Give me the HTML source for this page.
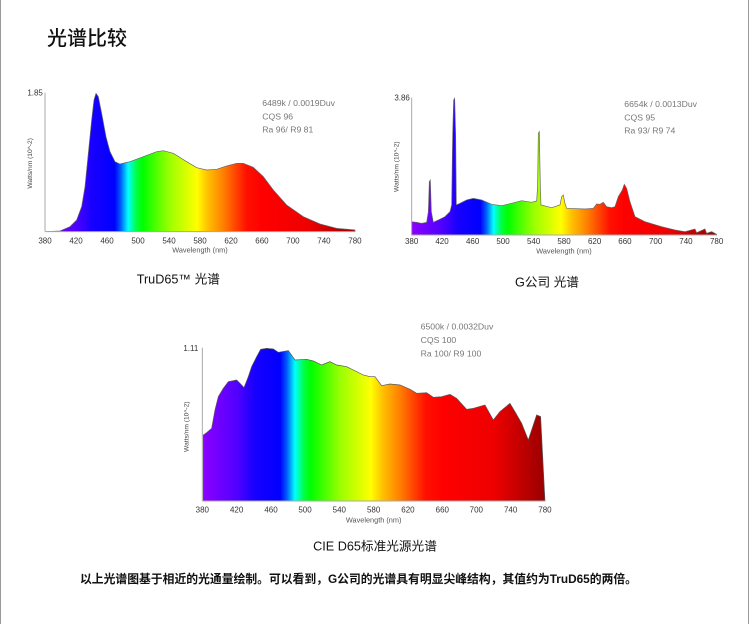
<!DOCTYPE html>
<html><head><meta charset="utf-8"><style>
html,body{margin:0;padding:0;background:#fff;}
body{width:750px;height:624px;overflow:hidden;position:relative;}
svg{position:absolute;left:0;top:0;}
</style></head><body>
<svg width="750" height="624" viewBox="0 0 750 624" xmlns="http://www.w3.org/2000/svg" font-family="Liberation Sans, Noto Sans CJK SC, sans-serif">
<defs>
<linearGradient id="sp" x1="0" x2="1" y1="0" y2="0">
<stop offset="0" stop-color="#8a00ff"/>
<stop offset="0.1" stop-color="#5000ff"/>
<stop offset="0.15" stop-color="#1800ff"/>
<stop offset="0.225" stop-color="#0000ff"/>
<stop offset="0.245" stop-color="#0060ff"/>
<stop offset="0.268" stop-color="#00ffff"/>
<stop offset="0.295" stop-color="#00ff40"/>
<stop offset="0.315" stop-color="#00ff00"/>
<stop offset="0.4" stop-color="#99ff00"/>
<stop offset="0.49" stop-color="#ffff00"/>
<stop offset="0.525" stop-color="#ffc000"/>
<stop offset="0.575" stop-color="#ff8000"/>
<stop offset="0.65" stop-color="#ff1000"/>
<stop offset="0.7" stop-color="#ff0000"/>
<stop offset="0.85" stop-color="#ee0000"/>
<stop offset="1" stop-color="#990000"/>
</linearGradient>
</defs>
<line x1="0.5" y1="0" x2="0.5" y2="624" stroke="#999"/>
<line x1="748.5" y1="0" x2="748.5" y2="624" stroke="#999"/>
<text x="47" y="45" font-size="20" fill="#111" font-weight="500">光谱比较</text>

<!-- Chart 1 -->
<g transform="translate(20,80) scale(0.3333)">
<path d="M75,455 L120,453 L150,440 L170,420 L185,380 L195,320 L205,220 L215,120 L222,60 L228,40 L235,50 L245,100 L258,170 L270,215 L285,245 L300,252 L330,245 L370,230 L410,215 L430,212 L460,220 L500,245 L530,263 L560,270 L590,268 L620,258 L650,250 L670,250 L700,262 L730,290 L760,330 L800,375 L850,410 L900,432 L950,445 L1005,450 L1005,455 Z" fill="url(#sp)" stroke="#666" stroke-width="2"/>
<line x1="75" y1="38" x2="75" y2="455" stroke="#aaa" stroke-width="3"/>
<line x1="75" y1="455" x2="1005" y2="455" stroke="#aaa" stroke-width="3"/>
<text x="22" y="47" font-size="24" fill="#333">1.85</text>
<g font-size="24" fill="#333" text-anchor="middle">
<text x="75" y="490">380</text><text x="168" y="490">420</text><text x="261" y="490">460</text><text x="354" y="490">500</text><text x="447" y="490">540</text><text x="540" y="490">580</text><text x="633" y="490">620</text><text x="726" y="490">660</text><text x="819" y="490">700</text><text x="912" y="490">740</text><text x="1005" y="490">780</text>
<text x="540" y="518" font-size="22" fill="#555">Wavelength (nm)</text>
</g>
<text transform="translate(36,250) rotate(-90)" font-size="20" fill="#444" text-anchor="middle">Watts/nm (10^-2)</text>
<g font-size="26" fill="#777"><text x="727" y="78">6489k / 0.0019Duv</text><text x="727" y="118">CQS 96</text><text x="727" y="158">Ra 96/ R9 81</text></g>
<text x="475" y="610" font-size="38" fill="#111" text-anchor="middle">TruD65™ 光谱</text>
</g>

<!-- Chart 2 -->
<g transform="translate(385,85) scale(0.3333)">
<path d="M80,410 L95,412 L110,415 L125,412 L130,380 L133,290 L136,285 L139,380 L145,412 L160,405 L180,395 L195,380 L200,360 L203,150 L206,45 L209,40 L212,150 L214,360 L225,355 L245,345 L265,340 L290,345 L320,358 L350,362 L380,355 L410,347 L440,352 L455,348 L458,300 L460,145 L463,140 L466,300 L468,360 L500,368 L525,360 L530,335 L535,330 L540,355 L545,370 L600,372 L625,370 L635,357 L645,358 L655,352 L665,365 L680,368 L690,365 L700,335 L712,315 L718,298 L725,310 L735,350 L750,395 L780,410 L830,425 L870,435 L900,440 L930,432 L935,443 L960,432 L965,445 L980,440 L995,448 L995,450 L80,450 Z" fill="url(#sp)" stroke="#666" stroke-width="2"/>
<line x1="80" y1="38" x2="80" y2="450" stroke="#aaa" stroke-width="3"/>
<line x1="80" y1="450" x2="995" y2="450" stroke="#aaa" stroke-width="3"/>
<text x="28" y="47" font-size="24" fill="#333">3.86</text>
<g font-size="24" fill="#333" text-anchor="middle">
<text x="80" y="477">380</text><text x="171" y="477">420</text><text x="263" y="477">460</text><text x="354" y="477">500</text><text x="446" y="477">540</text><text x="537" y="477">580</text><text x="629" y="477">620</text><text x="720" y="477">660</text><text x="812" y="477">700</text><text x="903" y="477">740</text><text x="995" y="477">780</text>
<text x="537" y="506" font-size="22" fill="#555">Wavelength (nm)</text>
</g>
<text transform="translate(40,245) rotate(-90)" font-size="20" fill="#444" text-anchor="middle">Watts/nm (10^-2)</text>
<g font-size="26" fill="#777"><text x="718" y="66">6654k / 0.0013Duv</text><text x="718" y="106">CQS 95</text><text x="718" y="146">Ra 93/ R9 74</text></g>
<text x="486" y="605" font-size="38" fill="#111" text-anchor="middle">G公司 光谱</text>
</g>

<!-- Chart 3 -->
<g transform="translate(170,310) scale(0.3333)">
<path d="M100,573 L100,375 L110,368 L125,355 L135,300 L145,260 L160,235 L175,215 L200,210 L210,220 L222,233 L235,200 L245,170 L260,140 L272,118 L290,115 L310,117 L325,127 L355,122 L375,150 L410,148 L430,153 L455,165 L480,155 L500,165 L530,170 L580,195 L600,200 L615,200 L635,227 L660,222 L690,225 L720,238 L740,250 L770,248 L790,262 L815,260 L840,253 L860,265 L890,298 L910,295 L945,285 L970,330 L990,305 L1020,280 L1035,305 L1055,340 L1075,390 L1085,360 L1100,315 L1112,320 L1125,573 Z" fill="url(#sp)" stroke="#555" stroke-width="2"/>
<line x1="97" y1="113" x2="97" y2="573" stroke="#aaa" stroke-width="3"/>
<line x1="97" y1="573" x2="1125" y2="573" stroke="#aaa" stroke-width="3"/>
<text x="40" y="123" font-size="24" fill="#333">1.11</text>
<g font-size="24" fill="#333" text-anchor="middle">
<text x="97" y="607">380</text><text x="200" y="607">420</text><text x="303" y="607">460</text><text x="405" y="607">500</text><text x="508" y="607">540</text><text x="611" y="607">580</text><text x="714" y="607">620</text><text x="817" y="607">660</text><text x="919" y="607">700</text><text x="1022" y="607">740</text><text x="1125" y="607">780</text>
<text x="611" y="638" font-size="22" fill="#555">Wavelength (nm)</text>
</g>
<text transform="translate(55,350) rotate(-90)" font-size="20" fill="#444" text-anchor="middle">Watts/nm (10^-2)</text>
<g font-size="26" fill="#777"><text x="752" y="59">6500k / 0.0032Duv</text><text x="752" y="99">CQS 100</text><text x="752" y="139">Ra 100/ R9 100</text></g>
<text x="615" y="722" font-size="38" fill="#111" text-anchor="middle">CIE D65标准光源光谱</text>
</g>

<text x="80" y="583" font-size="12" font-weight="bold" fill="#111" textLength="557" lengthAdjust="spacingAndGlyphs">以上光谱图基于相近的光通量绘制。可以看到，G公司的光谱具有明显尖峰结构，其值约为TruD65的两倍。</text>
</svg>
</body></html>
